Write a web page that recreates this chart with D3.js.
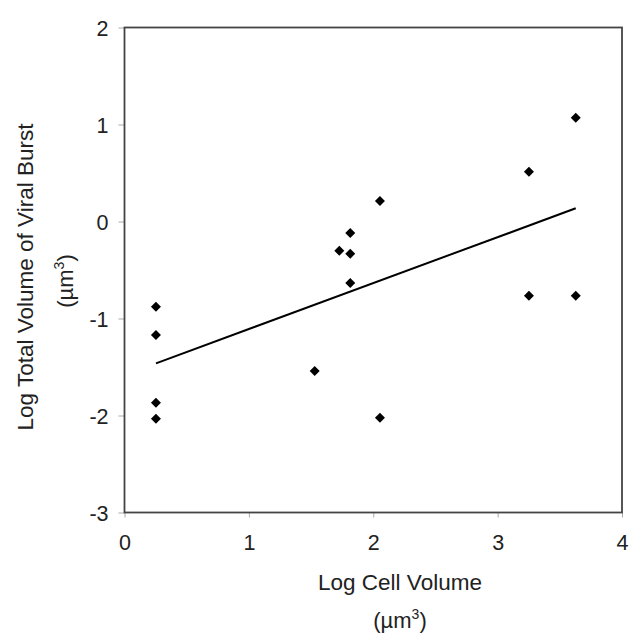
<!DOCTYPE html>
<html>
<head>
<meta charset="utf-8">
<script src="https://cdnjs.cloudflare.com/ajax/libs/d3/7.8.5/d3.min.js"></script>
<style>
  html, body { margin: 0; padding: 0; background: #fff; }
  svg { display: block; font-family: "Liberation Sans", Arial, sans-serif; }
</style>
</head>
<body>
<svg id="chart" width="630" height="635"></svg>
<script>
// ---- data ----
const logCellVolume = [0.253, 0.253, 0.253, 0.253, 1.529, 1.727, 1.815, 1.815, 1.815, 2.054, 2.054, 3.252, 3.252, 3.628, 3.628];
const logBurstVolume = [-0.878, -1.17, -1.868, -2.033, -1.541, -0.301, -0.119, -0.332, -0.634, 0.211, -2.023, 0.513, -0.765, 1.07, -0.765];
const trendX = [0.253, 3.628];
const trendY = [-1.462, 0.136];
const xTicks = [0, 1, 2, 3, 4];
const yTicks = [2, 1, 0, -1, -2, -3];
const xTitle = "Log Cell Volume";
const yTitle = "Log Total Volume of Viral Burst";

// ---- layout ----
const svg = d3.select("#chart");
const x = d3.scaleLinear().domain([0, 4]).range([124.5, 622]);
const y = d3.scaleLinear().domain([-3, 2]).range([512.5, 27.5]);

const axisColor = "#444";
const textColor = "#222";

// y axis
const yAxis = svg.append("g")
  .attr("transform", `translate(${x(0)},0)`)
  .call(d3.axisLeft(y).tickValues(yTicks).tickSize(6).tickPadding(10).tickFormat(d3.format("d")));
yAxis.select(".domain").remove();
yAxis.selectAll(".tick line").attr("stroke", "#aaa").attr("stroke-width", 1);
yAxis.selectAll(".tick text")
  .attr("fill", textColor).style("font-size", "21.5px").attr("dy", "0.36em")
  .text(d => d < 0 ? "-" + Math.abs(d) : d);

// x axis
const xAxis = svg.append("g")
  .attr("transform", `translate(0,${y(-3)})`)
  .call(d3.axisBottom(x).tickValues(xTicks).tickSize(5).tickPadding(17).tickFormat(d3.format("d")));
xAxis.select(".domain").remove();
xAxis.selectAll(".tick line").attr("stroke", "#aaa").attr("stroke-width", 1);
xAxis.selectAll(".tick text")
  .attr("fill", textColor).style("font-size", "21.5px").attr("dy", "0.71em");

// frame
svg.append("rect")
  .attr("x", x(0)).attr("y", y(2))
  .attr("width", x(4) - x(0)).attr("height", y(-3) - y(2))
  .attr("fill", "none").attr("stroke", axisColor).attr("stroke-width", 1.8);

// trend line
svg.append("line")
  .attr("x1", x(trendX[0])).attr("y1", y(trendY[0]))
  .attr("x2", x(trendX[1])).attr("y2", y(trendY[1]))
  .attr("stroke", "#000").attr("stroke-width", 2);

// points
const pts = logCellVolume.map((v, i) => ({ x: v, y: logBurstVolume[i] }));
const sym = d3.symbol().type(d3.symbolSquare).size(50);
svg.append("g").selectAll("path").data(pts).join("path")
  .attr("d", sym)
  .attr("transform", d => `translate(${x(d.x)},${y(d.y)}) rotate(45)`)
  .attr("fill", "#000");

// x title
svg.append("text")
  .attr("x", 400).attr("y", 590)
  .attr("text-anchor", "middle").attr("fill", textColor)
  .style("font-size", "22.5px").text(xTitle);
const xu = svg.append("text")
  .attr("x", 400).attr("y", 628)
  .attr("text-anchor", "middle").attr("fill", textColor)
  .style("font-size", "22px");
xu.append("tspan").text("(µm");
xu.append("tspan").attr("dy", -9).style("font-size", "14px").text("3");
xu.append("tspan").attr("dy", 9).text(")");

// y title
svg.append("text")
  .attr("transform", "translate(33,277) rotate(-90)")
  .attr("text-anchor", "middle").attr("fill", textColor)
  .style("font-size", "22.5px").text(yTitle);
const yu = svg.append("text")
  .attr("transform", "translate(73,281) rotate(-90)")
  .attr("text-anchor", "middle").attr("fill", textColor)
  .style("font-size", "22px");
yu.append("tspan").text("(µm");
yu.append("tspan").attr("dy", -9).style("font-size", "14px").text("3");
yu.append("tspan").attr("dy", 9).text(")");
</script>
</body>
</html>
